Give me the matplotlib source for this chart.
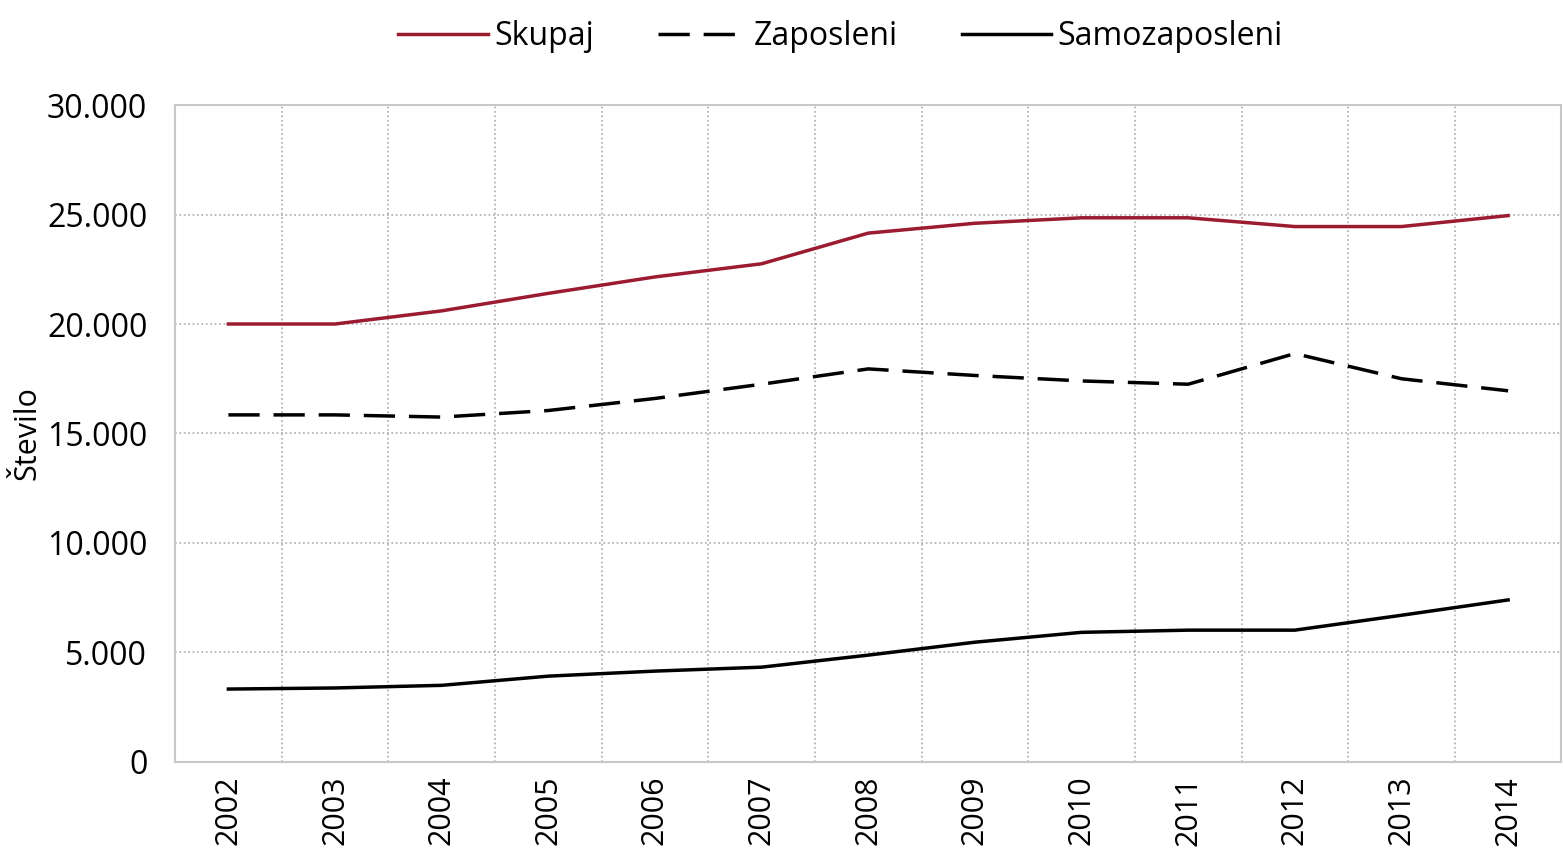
import numpy as np
import matplotlib.pyplot as plt
from matplotlib.ticker import FuncFormatter, MultipleLocator

# podatki
leta = ['2002', '2003', '2004', '2005', '2006', '2007', '2008',
        '2009', '2010', '2011', '2012', '2013', '2014']
skupaj = [20000, 20000, 20600, 21400, 22150, 22750, 24150,
          24600, 24850, 24850, 24450, 24450, 24950]
zaposleni = [15850, 15850, 15750, 16050, 16600, 17250, 17950,
             17650, 17400, 17250, 18650, 17500, 16950]
samozaposleni = [3330, 3380, 3500, 3920, 4150, 4330, 4880,
                 5470, 5920, 6020, 6020, 6700, 7400]

plt.rcParams['font.family'] = ['Open Sans', 'DejaVu Sans']

fig = plt.figure(figsize=(15.63, 8.51), dpi=100)
ax = fig.add_axes([0.112, 0.1046, 0.887, 0.772])

x = np.arange(len(leta))
ax.plot(x, skupaj, color='#9b1b30', lw=2.5, label='Skupaj')
ax.plot(x, zaposleni, color='black', lw=2.5, dashes=(9, 4), label='Zaposleni')
ax.plot(x, samozaposleni, color='black', lw=2.5, label='Samozaposleni')

ax.set_xlim(-0.5, len(leta) - 0.5)
ax.set_ylim(0, 30000)
ax.yaxis.set_major_locator(MultipleLocator(5000))
ax.yaxis.set_major_formatter(FuncFormatter(lambda v, p: f'{int(v):,}'.replace(',', '.')))
ax.set_xticks(x)
ax.set_xticklabels(leta, rotation=90, fontsize=22)
ax.set_xticks(x[:-1] + 0.5, minor=True)
ax.tick_params(axis='both', which='both', length=0)
ax.tick_params(axis='y', labelsize=23, pad=20)
ax.tick_params(axis='x', pad=10)

ax.grid(True, axis='y', which='major', color='#aaaaaa', ls=':', lw=1.2)
ax.grid(True, axis='x', which='minor', color='#aaaaaa', ls=':', lw=1.2)

for s in ax.spines.values():
    s.set_color('#c8c8c8')
    s.set_linewidth(1.5)

ax.set_ylabel('Število', fontsize=22)
ax.yaxis.set_label_coords(-0.096, 0.5)

ax.legend(loc='lower center', bbox_to_anchor=(0.48, 1.035), ncol=3, frameon=False,
          fontsize=23, handlelength=2.8, columnspacing=2.0, handletextpad=0.2)

plt.savefig('out.png', dpi=100)
